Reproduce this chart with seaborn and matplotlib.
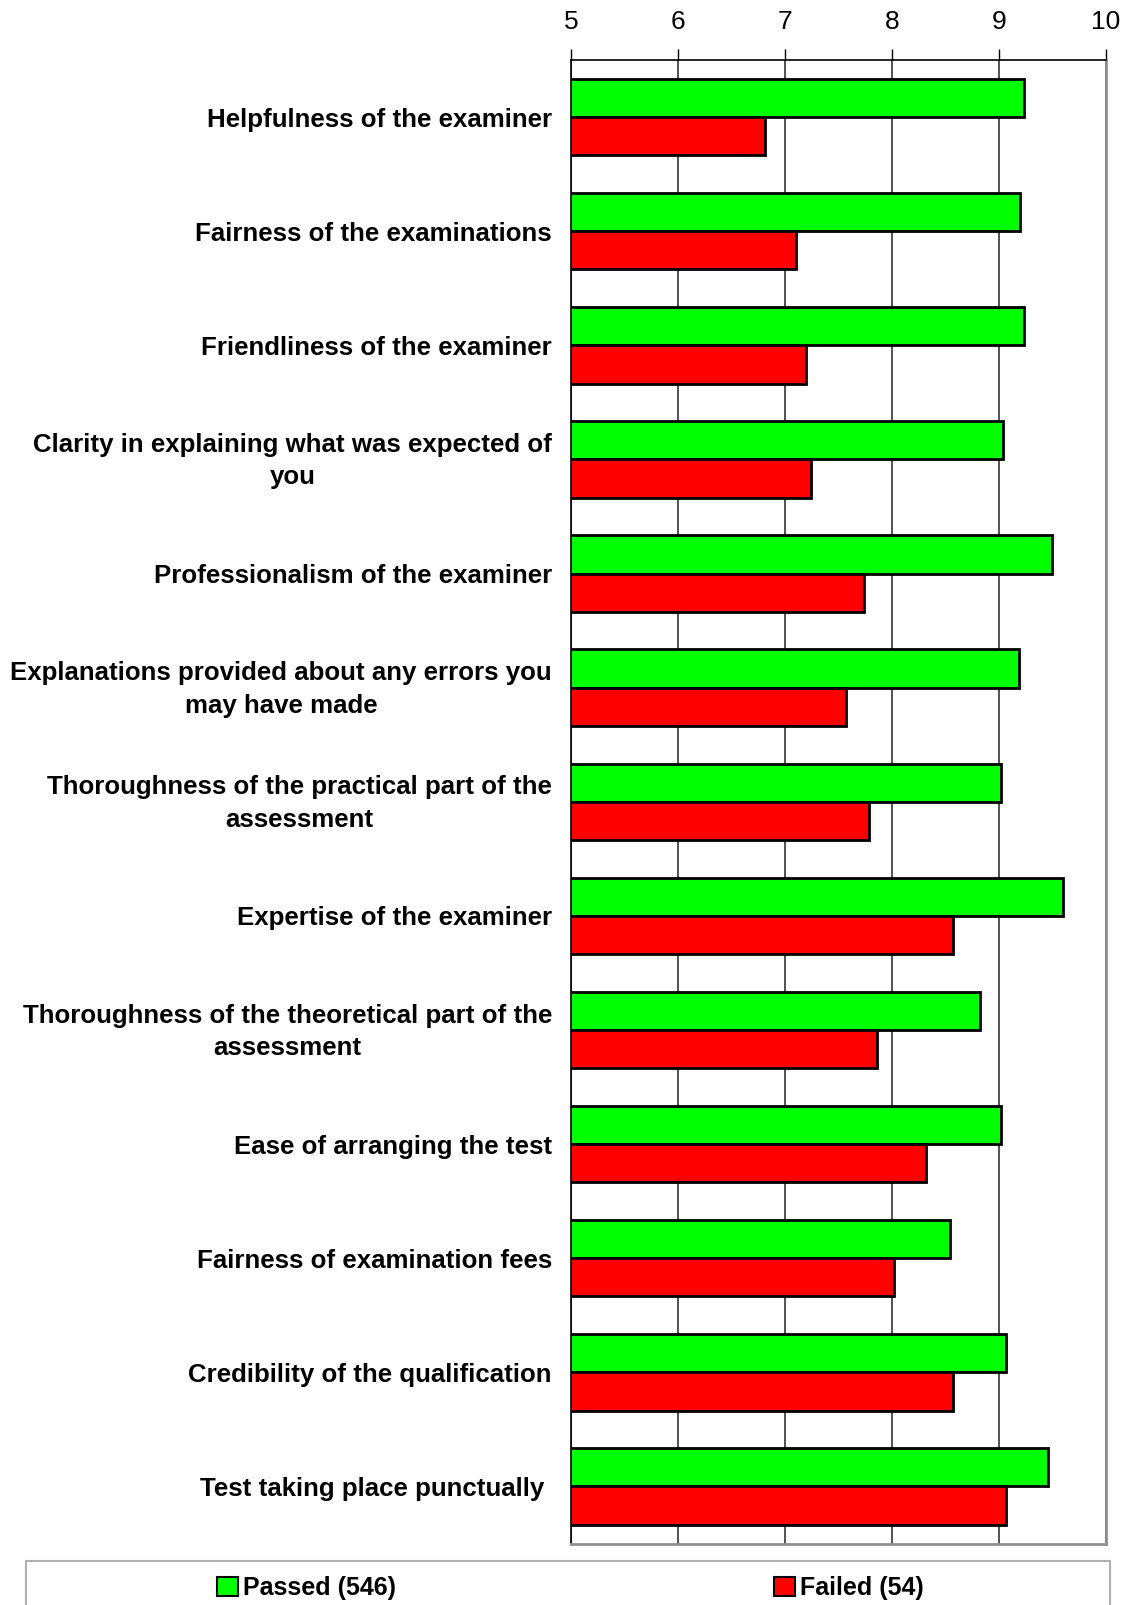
import numpy as np
import pandas as pd
import matplotlib
matplotlib.use('Agg')
import matplotlib.pyplot as plt
import matplotlib.transforms as mtransforms
import seaborn as sb
from matplotlib.patches import Rectangle
from matplotlib.ticker import FixedLocator

categories = ['Helpfulness of the examiner',
              'Fairness of the examinations',
              'Friendliness of the examiner',
              'Clarity in explaining what was expected of\nyou',
              'Professionalism of the examiner',
              'Explanations provided about any errors you\nmay have made',
              'Thoroughness of the practical part of the\nassessment',
              'Expertise of the examiner',
              'Thoroughness of the theoretical part of the\nassessment',
              'Ease of arranging the test',
              'Fairness of examination fees',
              'Credibility of the qualification',
              'Test taking place punctually ']
passed = [9.24, 9.20, 9.24, 9.04, 9.50, 9.19, 9.02, 9.60, 8.82, 9.02, 8.54, 9.07, 9.46]
failed = [6.81, 7.10, 7.20, 7.24, 7.74, 7.57, 7.79, 8.57, 7.86, 8.32, 8.02, 8.57, 9.07]
groups = ['Passed (546)', 'Failed (54)']
xticks = [5, 6, 7, 8, 9, 10]

df = pd.DataFrame({'Item': categories * 2,
                   'Score': passed + failed,
                   'Group': [groups[0]] * len(categories) + [groups[1]] * len(categories)})

sb.set_style('white')
plt.rcParams['font.family'] = ['Liberation Sans', 'DejaVu Sans']
plt.rcParams['text.color'] = 'black'
plt.rcParams['xtick.color'] = 'black'
plt.rcParams['ytick.color'] = 'black'

fig = plt.figure(figsize=(11.27, 16.05), dpi=100)
ax = fig.add_axes([0.507, 0.0383, 0.474, 0.9243])

sb.barplot(data=df, y='Item', x='Score', hue='Group', orient='h',
           palette=['#00ff00', '#ff0000'], width=0.67, edgecolor='black',
           linewidth=2, ax=ax, legend=False, saturation=1)

ax.set_xlim(5, 10)
ax.set_ylim(len(categories) - 0.5, -0.5)
ax.set_xlabel('')
ax.set_ylabel('')
ax.xaxis.tick_top()
ax.set_xticks(xticks)
ax.set_xticklabels([str(t) for t in xticks], fontsize=19)
ax.tick_params(axis='x', direction='out', length=8, width=1, color='black', pad=11)
ax.grid(axis='x', color='#333333', linewidth=1.2)
ax.set_axisbelow(True)

ax.tick_params(axis='y', which='major', length=0, pad=14)
ax.yaxis.set_minor_locator(FixedLocator(np.arange(-0.5, len(categories), 1)))
ax.tick_params(axis='y', which='minor', direction='out', length=8, width=1, color='black')
lift = mtransforms.ScaledTranslation(0, 5 / 100, fig.dpi_scale_trans)
for lbl in ax.get_yticklabels():
    lbl.set_fontsize(18.6)
    lbl.set_fontweight('bold')
    lbl.set_color('black')
    lbl.set_multialignment('center')
    lbl.set_linespacing(1.45)
    if '\n' in lbl.get_text():
        lbl.set_transform(lbl.get_transform() + lift)

for side in ['top', 'left']:
    ax.spines[side].set_color('black')
    ax.spines[side].set_linewidth(1.2)
for side in ['right', 'bottom']:
    ax.spines[side].set_color('#909090')
    ax.spines[side].set_linewidth(2)
    ax.spines[side].set_visible(True)

# legend box along the bottom edge
fig.patches.append(Rectangle((0.0227, -0.02), 0.962, 0.0474, transform=fig.transFigure,
                             facecolor='white', edgecolor='#b0b0b0', linewidth=1.5))
handles = [Rectangle((0, 0), 1, 1, facecolor=c, edgecolor='black', linewidth=1.5)
           for c in ['#00ff00', '#ff0000']]
fig.legend(handles, groups, loc='center', bbox_to_anchor=(0.506, 0.0105), ncol=2,
           frameon=False, handlelength=0.85, handleheight=0.85, handletextpad=0.2,
           columnspacing=15.1,
           prop={'family': ['Liberation Sans Narrow', 'Liberation Sans'], 'weight': 'bold', 'size': 18})

fig.savefig('out.png', dpi=100)
